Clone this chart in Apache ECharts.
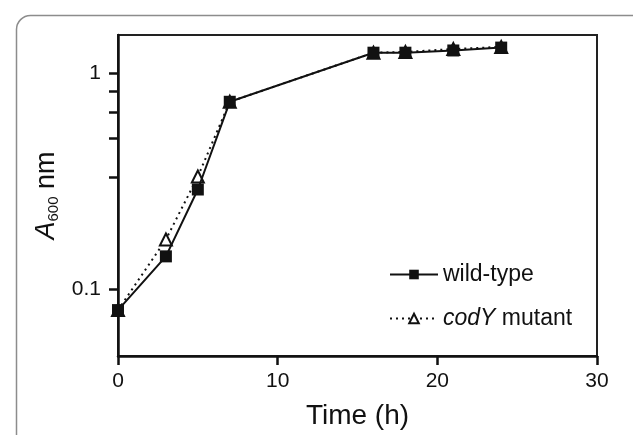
<!DOCTYPE html>
<html><head><meta charset="utf-8">
<script src="https://cdn.jsdelivr.net/npm/echarts@6/dist/echarts.min.js"></script>
<style>html,body{margin:0;padding:0;background:#fff}#c{width:633px;height:435px}</style>
</head><body><div id="c"></div>
<script>
const timeH = [0, 3, 5, 7, 16, 18, 21, 24];
const wildType = [0.080, 0.142, 0.29, 0.74, 1.25, 1.25, 1.28, 1.32];
const codYMutant = [0.080, 0.17, 0.333, 0.74, 1.25, 1.26, 1.30, 1.33];
const xTicks = [0, 10, 20, 30];
const yLabelTicks = [0.1, 1];
const yTickMarks = [0.1, 0.33, 0.5, 0.66, 0.83, 1];
const seriesNames = ['wild-type', 'codY mutant'];

const font = 'Liberation Sans, Arial, sans-serif';
const chart = echarts.init(document.getElementById('c'));
chart.setOption({
  animation: false,
  backgroundColor: '#fff',
  graphic: [{
    type: 'rect', left: 14, top: 13, z: -1,
    shape: {width: 640, height: 440, r: 14},
    style: {fill: 'none', stroke: '#8c8c8c', lineWidth: 1.5}
  }],
  grid: {left: 118, right: 36, top: 35, bottom: 78, show: true, borderColor: '#222', borderWidth: 2},
  legend: {
    orient: 'vertical', left: 384, top: 258, itemWidth: 48, itemHeight: 12, itemGap: 21,
    textStyle: {fontFamily: font, fontSize: 23, color: '#111', rich: {i: {fontFamily: font, fontSize: 23, fontStyle: 'italic', color: '#111'}}},
    formatter: n => n === seriesNames[1] ? '{i|codY} mutant' : n,
    data: seriesNames
  },
  xAxis: {
    type: 'value', min: xTicks[0], max: xTicks[xTicks.length - 1], interval: 10,
    name: 'Time (h)', nameLocation: 'middle', nameGap: 46,
    nameTextStyle: {fontFamily: font, fontSize: 28, color: '#111'},
    axisLine: {show: true, lineStyle: {color: '#111', width: 2.5}},
    axisTick: {show: true, length: 9, lineStyle: {color: '#111', width: 2.5}},
    axisLabel: {fontFamily: font, fontSize: 21, color: '#111', margin: 15},
    splitLine: {show: false}
  },
  yAxis: {
    type: 'log', logBase: 10, min: 0.049, max: 1.51,
    name: '{a|A}{s|600} nm', nameLocation: 'middle', nameGap: 50, nameRotate: 90,
    nameTextStyle: {fontFamily: font, fontSize: 27, color: '#111',
      rich: {a: {fontFamily: font, fontSize: 27, fontStyle: 'italic', color: '#111'},
             s: {fontFamily: font, fontSize: 15, color: '#111', verticalAlign: 'bottom', padding: [14, 0, 0, 0]}}},
    axisLine: {show: true, lineStyle: {color: '#111', width: 2.5}},
    axisTick: {show: true, length: 9, customValues: yTickMarks, lineStyle: {color: '#111', width: 2.5}},
    axisLabel: {fontFamily: font, fontSize: 21, color: '#111', margin: 17, customValues: yLabelTicks,
      formatter: v => String(v)},
    splitLine: {show: false},
    minorTick: {show: false}
  },
  series: [{
    name: seriesNames[0], type: 'line',
    data: timeH.map((t, i) => [t, wildType[i]]),
    symbol: 'rect', symbolSize: 12,
    itemStyle: {color: '#111'},
    lineStyle: {color: '#111', width: 2},
    z: 3
  }, {
    name: seriesNames[1], type: 'line',
    data: timeH.map((t, i) => [t, codYMutant[i]]),
    symbol: 'emptyTriangle', symbolSize: 12,
    itemStyle: {color: '#111', borderColor: '#111', borderWidth: 2},
    lineStyle: {color: '#111', width: 2, type: [2, 4]},
    z: 2
  }]
});
</script></body></html>
